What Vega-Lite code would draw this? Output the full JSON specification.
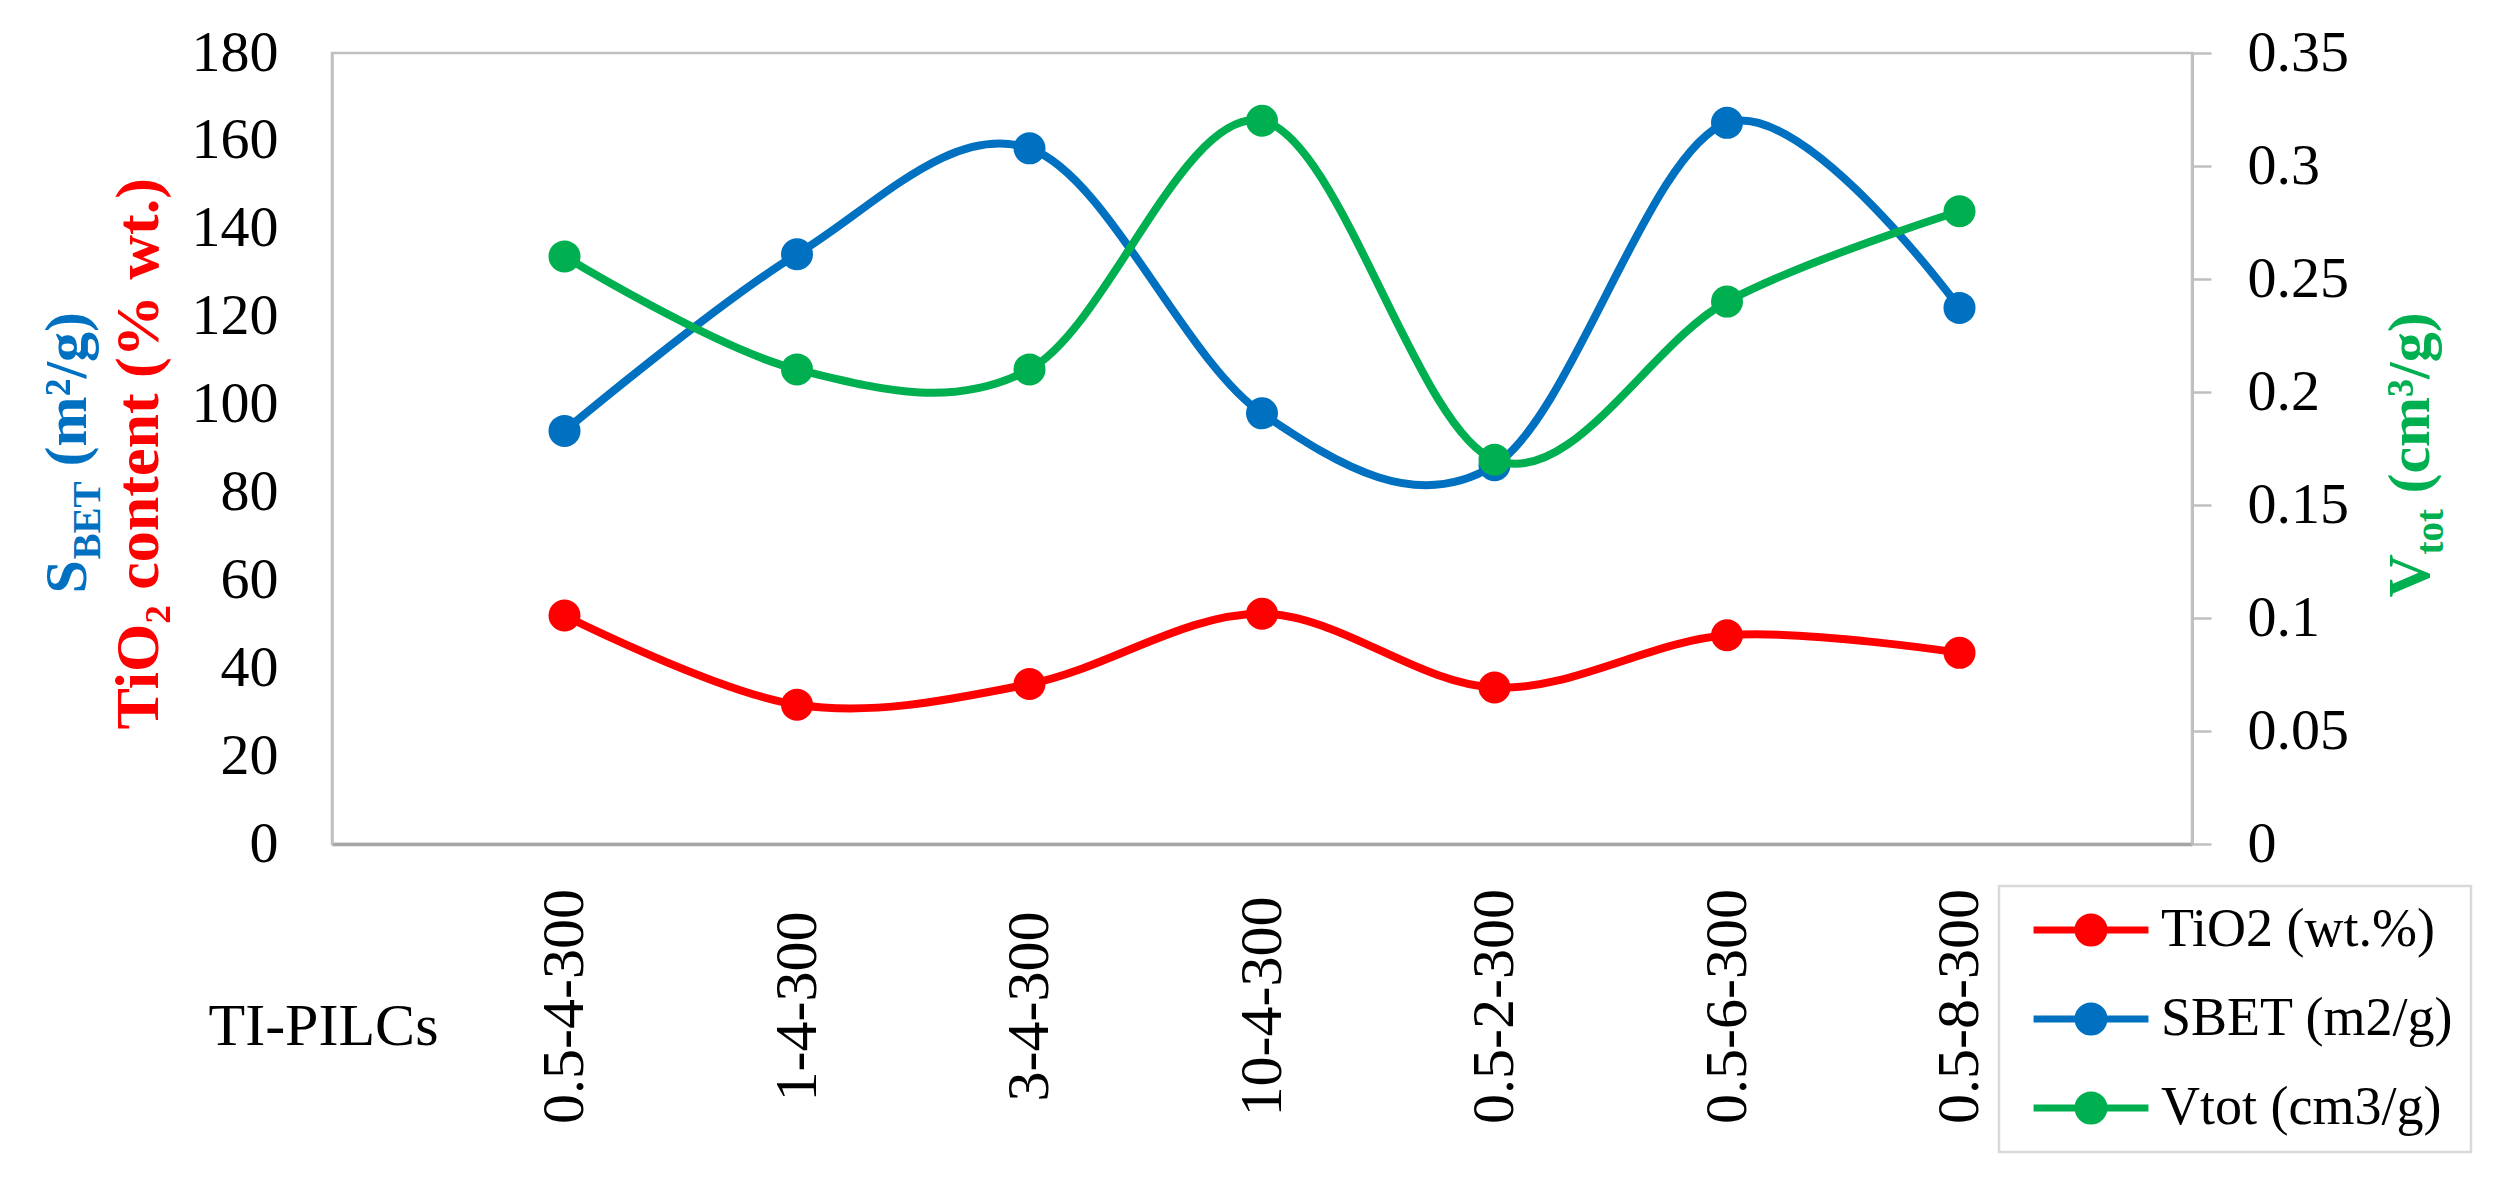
{
  "$schema": "https://vega.github.io/schema/vega-lite/v6.json",
  "width": 1860,
  "height": 791,
  "autosize": {"type": "none"},
  "padding": {"left": 332, "top": 53, "right": 309, "bottom": 348},
  "background": "white",
  "config": {
    "view": {"stroke": "#bfbfbf", "strokeWidth": 2.5},
    "axis": {"grid": false}
  },
  "data": {
    "values": [
      {"sample": "0.5-4-300", "series": "TiO2 (wt.%)", "value": 52.0},
      {"sample": "1-4-300", "series": "TiO2 (wt.%)", "value": 31.7},
      {"sample": "3-4-300", "series": "TiO2 (wt.%)", "value": 36.4},
      {"sample": "10-4-300", "series": "TiO2 (wt.%)", "value": 52.4},
      {"sample": "0.5-2-300", "series": "TiO2 (wt.%)", "value": 35.6},
      {"sample": "0.5-6-300", "series": "TiO2 (wt.%)", "value": 47.5},
      {"sample": "0.5-8-300", "series": "TiO2 (wt.%)", "value": 43.5},
      {"sample": "0.5-4-300", "series": "SBET (m2/g)", "value": 94.0},
      {"sample": "1-4-300", "series": "SBET (m2/g)", "value": 134.2},
      {"sample": "3-4-300", "series": "SBET (m2/g)", "value": 158.3},
      {"sample": "10-4-300", "series": "SBET (m2/g)", "value": 98.0},
      {"sample": "0.5-2-300", "series": "SBET (m2/g)", "value": 86.2},
      {"sample": "0.5-6-300", "series": "SBET (m2/g)", "value": 164.1},
      {"sample": "0.5-8-300", "series": "SBET (m2/g)", "value": 122.0},
      {"sample": "0.5-4-300", "series": "Vtot (cm3/g)", "value": 0.26},
      {"sample": "1-4-300", "series": "Vtot (cm3/g)", "value": 0.21},
      {"sample": "3-4-300", "series": "Vtot (cm3/g)", "value": 0.21},
      {"sample": "10-4-300", "series": "Vtot (cm3/g)", "value": 0.32},
      {"sample": "0.5-2-300", "series": "Vtot (cm3/g)", "value": 0.17},
      {"sample": "0.5-6-300", "series": "Vtot (cm3/g)", "value": 0.24},
      {"sample": "0.5-8-300", "series": "Vtot (cm3/g)", "value": 0.28}
    ]
  },
  "encoding": {
    "x": {
      "field": "sample",
      "type": "nominal",
      "scale": {"type": "point", "padding": 0, "domain": ["", "0.5-4-300", "1-4-300", "3-4-300", "10-4-300", "0.5-2-300", "0.5-6-300", "0.5-8-300", " "]},
      "axis": {
        "title": "TI-PILCs",
        "titleX": -124, "titleY": 200, "titleAngle": 0, "titleAlign": "left", "titleBaseline": "alphabetic",
        "titleFont": "Liberation Serif", "titleFontSize": 60, "titleFontWeight": "normal", "titleColor": "black",
        "labelAngle": -90, "labelAlign": "center", "labelBaseline": "middle", "labelPadding": 162, "labelLimit": 600,
        "labelFont": "Liberation Serif", "labelFontSize": 60, "labelColor": "black",
        "ticks": false, "tickSize": 0, "domainColor": "#a6a6a6", "domainWidth": 3.5
      }
    }
  },
  "layer": [
    {
      "transform": [{"filter": "datum.series !== 'Vtot (cm3/g)'"}],
      "encoding": {
        "y": {
          "field": "value", "type": "quantitative",
          "scale": {"domain": [0, 180]},
          "axis": {
            "orient": "left", "values": [0, 20, 40, 60, 80, 100, 120, 140, 160, 180],
            "ticks": false, "tickSize": 0, "labelPadding": 54, "domainColor": "#bfbfbf", "domainWidth": 2.5,
            "labelFont": "Liberation Serif", "labelFontSize": 58, "labelColor": "black",
            "title": "TiO₂ content (% wt.)",
            "titleX": -175, "titleY": 676, "titleAngle": -90, "titleAlign": "left", "titleBaseline": "alphabetic",
            "titleFont": "Liberation Serif", "titleFontSize": 62, "titleFontWeight": "bold", "titleColor": "#ff0000"
          }
        },
        "color": {
          "field": "series", "type": "nominal",
          "scale": {"domain": ["TiO2 (wt.%)", "SBET (m2/g)", "Vtot (cm3/g)"], "range": ["#ff0000", "#0070c0", "#00b050"]},
          "legend": {
            "orient": "none", "legendX": 1667, "legendY": 833, "title": null,
            "strokeColor": "#d9d9d9", "fillColor": "white", "padding": 17,
            "labelFont": "Liberation Serif", "labelFontSize": 54, "labelColor": "black", "labelLimit": 600,
            "symbolType": "M-4.42,0L4.42,0M-1,0A1,1,0,1,0,1,0A1,1,0,1,0,-1,0Z",
            "symbolSize": 676, "symbolStrokeWidth": 7, "symbolOffset": 48, "labelOffset": 43, "rowPadding": 35,
            "encode": {
              "legend": {"update": {"strokeWidth": {"value": 2.5}}},
              "symbols": {"update": {"fill": {"scale": "color", "field": "value"}, "stroke": {"scale": "color", "field": "value"}, "opacity": {"value": 1}}}
            }
          }
        }
      },
      "layer": [
        {"mark": {"type": "line", "interpolate": "cardinal", "strokeWidth": 8}},
        {"mark": {"type": "point", "filled": true, "size": 1024, "opacity": 1, "strokeWidth": 0}}
      ]
    },
    {
      "transform": [{"filter": "datum.series === 'Vtot (cm3/g)'"}],
      "encoding": {
        "y": {
          "field": "value", "type": "quantitative",
          "scale": {"domain": [0, 0.35]},
          "axis": {
            "orient": "right", "values": [0, 0.05, 0.1, 0.15, 0.2, 0.25, 0.3, 0.35], "format": ".2~f",
            "ticks": true, "tickSize": 19, "tickColor": "#bfbfbf", "tickWidth": 2.5,
            "labelPadding": 36, "domainColor": "#bfbfbf", "domainWidth": 3,
            "labelFont": "Liberation Serif", "labelFontSize": 58, "labelColor": "black",
            "title": "V",
            "titleX": 236, "titleY": 544, "titleAngle": -90, "titleAlign": "left", "titleBaseline": "alphabetic",
            "titleFont": "Liberation Serif", "titleFontSize": 60, "titleFontWeight": "bold", "titleColor": "#00b050"
          }
        },
        "color": {"field": "series", "type": "nominal"}
      },
      "layer": [
        {"mark": {"type": "line", "interpolate": "cardinal", "strokeWidth": 8}},
        {"mark": {"type": "point", "filled": true, "size": 1024, "opacity": 1, "strokeWidth": 0}}
      ]
    },
    {
      "mark": {"type": "point", "opacity": 0},
      "encoding": {
        "y": {"field": "value", "type": "quantitative", "axis": {
          "orient": "left", "labels": false, "ticks": false, "domain": false, "title": "S",
          "titleX": -247, "titleY": 540, "titleAngle": -90, "titleAlign": "left", "titleBaseline": "alphabetic",
          "titleFont": "Liberation Serif", "titleFontSize": 60, "titleFontWeight": "bold", "titleColor": "#0070c0"}}
      }
    },
    {
      "mark": {"type": "point", "opacity": 0},
      "encoding": {
        "y": {"field": "value", "type": "quantitative", "axis": {
          "orient": "left", "labels": false, "ticks": false, "domain": false, "title": "BET",
          "titleX": -233, "titleY": 506, "titleAngle": -90, "titleAlign": "left", "titleBaseline": "alphabetic",
          "titleFont": "Liberation Serif", "titleFontSize": 39, "titleFontWeight": "bold", "titleColor": "#0070c0"}}
      }
    },
    {
      "mark": {"type": "point", "opacity": 0},
      "encoding": {
        "y": {"field": "value", "type": "quantitative", "axis": {
          "orient": "left", "labels": false, "ticks": false, "domain": false, "title": "(m²/g)",
          "titleX": -247, "titleY": 413, "titleAngle": -90, "titleAlign": "left", "titleBaseline": "alphabetic",
          "titleFont": "Liberation Serif", "titleFontSize": 60, "titleFontWeight": "bold", "titleColor": "#0070c0"}}
      }
    },
    {
      "mark": {"type": "point", "opacity": 0},
      "encoding": {
        "y": {"field": "value", "type": "quantitative", "axis": {
          "orient": "right", "labels": false, "ticks": false, "domain": false, "title": "tot",
          "titleX": 250, "titleY": 501, "titleAngle": -90, "titleAlign": "left", "titleBaseline": "alphabetic",
          "titleFont": "Liberation Serif", "titleFontSize": 39, "titleFontWeight": "bold", "titleColor": "#00b050"}}
      }
    },
    {
      "mark": {"type": "point", "opacity": 0},
      "encoding": {
        "y": {"field": "value", "type": "quantitative", "axis": {
          "orient": "right", "labels": false, "ticks": false, "domain": false, "title": "(cm³/g)",
          "titleX": 236, "titleY": 440, "titleAngle": -90, "titleAlign": "left", "titleBaseline": "alphabetic",
          "titleFont": "Liberation Serif", "titleFontSize": 60, "titleFontWeight": "bold", "titleColor": "#00b050"}}
      }
    }
  ],
  "resolve": {"scale": {"y": "independent"}}
}
